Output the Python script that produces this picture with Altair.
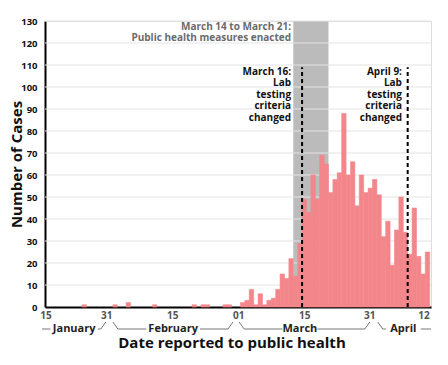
import altair as alt
import pandas as pd

# ---------------- data ----------------
start = pd.Timestamp("2020-01-15")
cases = [0, 0, 0, 0, 0, 0, 0, 0, 0, 0, 0, 1, 0, 0, 0, 0, 0, 0, 1, 0, 0, 2,
         0, 0, 0, 0, 0, 1, 0, 0, 0, 0, 0, 0, 0, 0, 1, 0, 1, 1, 0, 0, 0, 1,
         1, 0, 0, 2, 3, 8, 1, 6, 1, 3, 4, 8, 15, 13, 22, 14, 29, 49, 43, 60,
         49, 69, 65, 52, 58, 61, 88, 60, 66, 46, 60, 52, 54, 58, 51, 32, 39,
         19, 35, 50, 34, 24, 45, 23, 15, 25]

tick_labels = ["15", "31", "15", "01", "15", "31", "12"]
tick_days = [2.8, 16.6, 31.6, 46.6, 61.6, 76.4, 88.7]

months = ["January", "February", "March", "April"]
month_from = [1.9, 18.0, 46.7, 78.2]
month_to = [16.4, 45.3, 76.4, 90.3]
month_mid = [9.2, 31.7, 60.5, 84.0]

band_start = "2020-03-14"
band_end = "2020-03-22"
band_lines = ["March 14 to March 21:", "Public health measures enacted"]

event_dates = ["2020-03-16", "2020-04-09"]
event_label_day = [58.5, 83.7]
event_lines = [["March 16:", "Lab", "testing", "criteria", "changed"],
               ["April 9:", "Lab", "testing", "criteria", "changed"]]
event_top = 109

y_ticks = list(range(0, 131, 10))

# ---------------- layout ----------------
W, H = 386, 286
YMAX = 130
FONT = "Open Sans"
BAR = "#f3868b"


def day_of(s):
    return (pd.Timestamp(s) - start).days


def v_of(py):
    return (H - py) * YMAX / H


xscale = alt.Scale(domain=[2.57, 90.3], nice=False, zero=False)
yscale = alt.Scale(domain=[0, YMAX], nice=False)

x_axis = alt.Axis(labels=False, ticks=False, grid=False, title=None,
                  domainColor="black", domainWidth=2)
y_axis = alt.Axis(values=y_ticks, grid=False, ticks=False,
                  labelFont=FONT, labelFontSize=9.5, labelFontWeight="bold",
                  labelColor="#111111", labelPadding=8,
                  title="Number of Cases", titleFont=FONT, titleFontSize=15,
                  titleFontWeight="bold", titleColor="#111111",
                  titleX=-29, titleY=H / 2, titleAngle=270,
                  titleAlign="center", titleBaseline="middle",
                  domainColor="black", domainWidth=2)

dates = pd.date_range(start, periods=len(cases), freq="D")
bars_df = pd.DataFrame({"d": [(d - start).days for d in dates], "cases": cases})
bars_df["d1"] = bars_df["d"] + 1
bars_df["zero"] = 0
bars_df = bars_df[bars_df["cases"] > 0]

band_df = pd.DataFrame({"d0": [day_of(band_start)], "d1": [day_of(band_end)]})
grid_df = pd.DataFrame({"v": y_ticks[1:]})
event_df = pd.DataFrame({"d": [day_of(s) for s in event_dates], "v0": 0, "v1": event_top})

# annotation text rows
ann_rows = []
for i, t in enumerate(band_lines):
    ann_rows.append({"d": day_of(band_start) - 0.5, "v": v_of(6 + 11 * i), "t": t, "c": "#6b6b6b"})
for lines, ld in zip(event_lines, event_label_day):
    for i, t in enumerate(lines):
        ann_rows.append({"d": ld, "v": v_of(51 + 11.4 * i), "t": t, "c": "#111111"})
ann_df = pd.DataFrame(ann_rows)

tick_df = pd.DataFrame({"d": tick_days, "t": tick_labels})
month_df = pd.DataFrame({"d": month_mid, "t": months})

# bracket segments under the month names
sl = 5 / 4.4
seg = []
for i, (m, a, b, c) in enumerate(zip(months, month_from, month_to, month_mid)):
    gap = (len(m) * 6.2 / 2 + 2) / 4.4
    ya, yb = v_of(301), v_of(308)
    left = a
    right = b
    if i > 0:
        seg.append({"x0": a, "x1": a + sl, "y0": ya, "y1": yb})
        left = a + sl
    if i < len(months) - 1:
        seg.append({"x0": b - sl, "x1": b, "y0": yb, "y1": ya})
        right = b - sl
    seg.append({"x0": left, "x1": c - gap, "y0": yb, "y1": yb})
    seg.append({"x0": c + gap, "x1": right, "y0": yb, "y1": yb})
seg_df = pd.DataFrame(seg)

# ---------------- layers ----------------
band = alt.Chart(band_df).mark_rect(color="#bbbbbb").encode(
    x=alt.X("d0:Q", scale=xscale, axis=x_axis),
    x2="d1:Q",
    y=alt.value(0),
    y2=alt.value(H),
)

grid = alt.Chart(grid_df).mark_rule(color="#e3e3e3", strokeWidth=1).encode(
    y=alt.Y("v:Q", scale=yscale, axis=y_axis),
    x=alt.value(0),
    x2=alt.value(W),
)

bars = alt.Chart(bars_df).mark_bar(color=BAR, stroke=BAR, strokeWidth=0.6).encode(
    x=alt.X("d:Q", scale=xscale, axis=x_axis),
    x2="d1:Q",
    y=alt.Y("cases:Q", scale=yscale, axis=y_axis),
    y2="zero:Q",
)

events = alt.Chart(event_df).mark_rule(color="black", strokeWidth=2, strokeDash=[4, 3]).encode(
    x=alt.X("d:Q", scale=xscale, axis=x_axis),
    y=alt.Y("v0:Q", scale=yscale, axis=y_axis),
    y2="v1:Q",
)

ann = alt.Chart(ann_df).mark_text(align="right", baseline="middle", font=FONT,
                                   fontSize=10, fontWeight="bold").encode(
    x=alt.X("d:Q", scale=xscale, axis=x_axis),
    y=alt.Y("v:Q", scale=yscale, axis=y_axis),
    text="t:N",
    color=alt.Color("c:N", scale=None),
)

ticks = alt.Chart(tick_df).mark_text(align="center", baseline="middle", font=FONT,
                                     fontSize=10, fontWeight="bold", color="#555555").encode(
    x=alt.X("d:Q", scale=xscale, axis=x_axis),
    y=alt.value(295),
    text="t:N",
)

brackets = alt.Chart(seg_df).mark_rule(color="#777777", strokeWidth=1).encode(
    x=alt.X("x0:Q", scale=xscale, axis=x_axis),
    x2="x1:Q",
    y=alt.Y("y0:Q", scale=yscale, axis=y_axis),
    y2="y1:Q",
)

month_text = alt.Chart(month_df).mark_text(align="center", baseline="middle", font=FONT,
                                           fontSize=11, fontWeight="bold", color="#222222").encode(
    x=alt.X("d:Q", scale=xscale, axis=x_axis),
    y=alt.value(308),
    text="t:N",
)

xtitle = alt.Chart(pd.DataFrame({"t": ["Date reported to public health"]})).mark_text(
    align="center", baseline="middle", font=FONT, fontSize=15, fontWeight="bold",
    color="#111111").encode(
    x=alt.value(187),
    y=alt.value(322),
    text="t:N",
)

chart = alt.layer(band, grid, bars, events, ann, ticks, brackets, month_text, xtitle).properties(
    width=W, height=H,
    autosize=alt.AutoSizeParams(type="none"),
    padding={"left": 37, "top": 13, "right": 9, "bottom": 50},
).configure_view(stroke=None).configure(font=FONT)

chart.save("out.html", embed_options={"renderer": "svg", "actions": False})
